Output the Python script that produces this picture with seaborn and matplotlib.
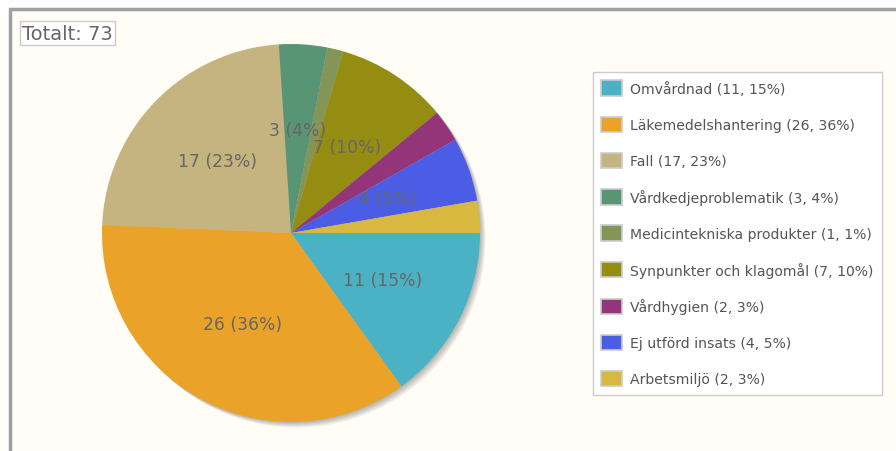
import matplotlib
matplotlib.use("Agg")
import matplotlib.pyplot as plt
import seaborn as sns
from matplotlib.patches import Rectangle, Circle, Patch

# Data
categories = ['Omvårdnad', 'Läkemedelshantering', 'Fall', 'Vårdkedjeproblematik',
              'Medicintekniska produkter', 'Synpunkter och klagomål', 'Vårdhygien',
              'Ej utförd insats', 'Arbetsmiljö']
counts = [11, 26, 17, 3, 1, 7, 2, 4, 2]
colors = ['#4bb2c5', '#EAA228', '#c5b47f', '#579575', '#839557',
          '#958c12', '#953579', '#4b5de4', '#d8b83f']
total = sum(counts)

sns.set_theme(style='white')
plt.rcParams['font.family'] = ['DejaVu Sans']

W, H = 896, 452
fig = plt.figure(figsize=(W / 100, H / 100), dpi=100, facecolor='white')

# outer frame (cream panel with gray border on top/left)
fig.patches.append(Rectangle((10 / W, -0.05), 1.1, (H - 10) / H + 0.05,
                             transform=fig.transFigure, facecolor='#fffdf6',
                             edgecolor='#a0a0a0', linewidth=2.5, zorder=-10))

# pie axes (with a small margin so the shadow is not clipped)
cx, cy, r = 291, 234, 189
m = 1.08
ax = fig.add_axes([(cx - r * m) / W, (H - cy - r * m) / H, 2 * r * m / W, 2 * r * m / H])
ax.set_zorder(1)
ax.axis('off')
ax.patch.set_alpha(0)

# shadow
for k in range(1, 6):
    off = k * 1.1 / r
    ax.add_patch(Circle((off, -off), 1.0, facecolor='black', alpha=0.06,
                        edgecolor='none', zorder=0))

def fmt(p):
    n = int(round(p * total / 100))
    return f'{n} ({p:.0f}%)' if n >= 3 else ''

wedges, texts, autotexts = ax.pie(counts, colors=colors, startangle=0, counterclock=False,
                                  radius=1.0, autopct=fmt, pctdistance=0.545,
                                  wedgeprops=dict(linewidth=0, zorder=2),
                                  textprops=dict(color='#666666', fontsize=12.3))
ax.set_xlim(-m, m)
ax.set_ylim(-m, m)

# title box
fig.text(22 / W, 1 - 34 / H, f'Totalt: {total}', fontsize=14, color='#666666',
         va='center', ha='left',
         bbox=dict(boxstyle='square,pad=0.12', facecolor='white', edgecolor='#cccccc', linewidth=1))

# legend
labels = [f'{c} ({n}, {round(n / total * 100):.0f}%)' for c, n in zip(categories, counts)]
handles = [Patch(facecolor=c, edgecolor='#cccccc', linewidth=1.2) for c in colors]
leg = fig.legend(handles, labels, loc='upper left',
                 bbox_to_anchor=(593 / W, 1 - 73 / H), borderaxespad=0,
                 fontsize=10.1, labelcolor='#555555', frameon=True, fancybox=False,
                 edgecolor='#cccccc', facecolor='white', framealpha=1,
                 handlelength=1.5, handleheight=1.3, handletextpad=0.55,
                 labelspacing=1.48, borderpad=0.6)
leg.get_frame().set_linewidth(1)
leg.set_zorder(5)

fig.savefig('out.png', dpi=100, facecolor='white')
